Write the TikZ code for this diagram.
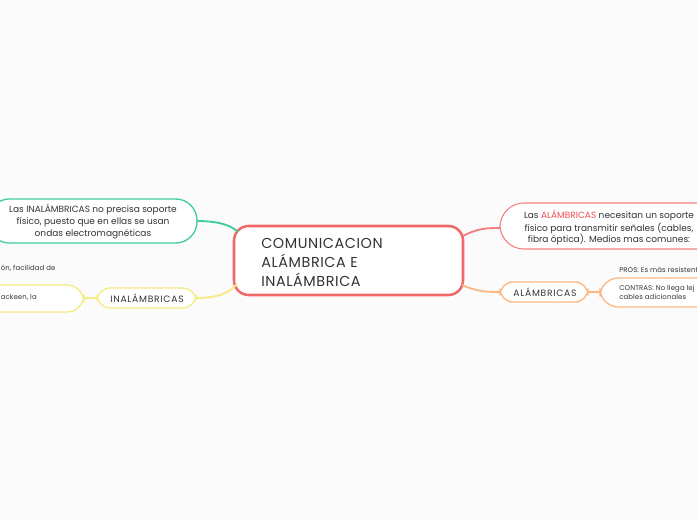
\documentclass[tikz,border=0pt]{standalone}
\usepackage{fontspec}
\setmainfont{Poppins}
\definecolor{bg}{HTML}{FBFBFB}
\definecolor{cred}{HTML}{F26868}
\definecolor{cgreen}{HTML}{44CC9C}
\definecolor{cyellow}{HTML}{F6EB84}
\definecolor{corange}{HTML}{FDB783}
\definecolor{txt}{HTML}{333333}
\definecolor{redtxt}{HTML}{F04E4E}
\begin{document}
\begin{tikzpicture}[x=0.75pt,y=-0.75pt,
  lbl/.style={inner sep=0pt,text=txt,font=\fontsize{6.75}{9}\selectfont,align=center},
  caps/.style={inner sep=0pt,text=txt,font=\fontsize{6.9}{9}\selectfont\addfontfeature{LetterSpace=8}},
  small/.style={inner sep=0pt,text=txt,font=\fontsize{5.2}{7}\selectfont\addfontfeature{LetterSpace=1.5},align=left},
  conn/.style={line width=1.4pt}]
\useasboundingbox (0,0) rectangle (697,520);
\fill[bg] (0,0) rectangle (697,520);
\begin{scope}
\clip (0,0) rectangle (697,520);
% central
\draw[cred,line width=1.9pt,fill=white,rounded corners=11pt] (234,226) rectangle (463,295);
\node[lbl,anchor=north west,align=left,font=\fontsize{10.8}{14.4}\selectfont\addfontfeature{LetterSpace=4}] (c) at (261,238) {COMUNICACION\\ALÁMBRICA E\\INALÁMBRICA};
\coordinate (cgr) at (238,232);
\coordinate (cye) at (237,284);
\coordinate (cre) at (463,236);
\coordinate (cor) at (462,285);
% green node
\draw[cgreen,line width=1pt,fill=white,rounded corners=16pt] (-12,199) rectangle (197,243);
\node[lbl] (g) at (93,221.5) {Las INALÁMBRICAS no precisa soporte\\físico, puesto que en ellas se usan\\ondas electromagnéticas};
\coordinate (gr) at (197,221);
\draw[cgreen,conn] (gr) .. controls (220,221) and (232,226) .. (cgr);
% yellow
\draw[cyellow,line width=1pt,fill=white,rounded corners=10pt] (97,288) rectangle (196,308);
\node[caps] (ina) at (147,298) {INALÁMBRICAS};
\draw[cyellow,conn] (196,298) .. controls (220,298) and (230,292) .. (cye);
\draw[cyellow,line width=1pt,fill=white,rounded corners=13pt] (-60,285) rectangle (84,312);
\node[small,anchor=west] (ya) at (0.5,297.5) {ackeen, la};
\node[small,anchor=west] (yb) at (0.5,268) {ón, facilidad de};
\draw[cyellow,line width=1pt] (84,298) -- (97,298);
% red right
\draw[cred!85,line width=0.8pt,fill=white,rounded corners=18pt] (500,203) rectangle (725,249);
\node[lbl] (r) at (609,228) {Las \textcolor{redtxt}{ALÁMBRICAS} necesitan un soporte\\físico para transmitir señales (cables,\\fibra óptica). Medios mas comunes:};
\draw[cred!85,conn] (cre) .. controls (478,228) and (488,228) .. (500,228);
% orange
\draw[corange,line width=1pt,fill=white,rounded corners=10pt] (500,282) rectangle (588,302);
\node[caps] (al) at (545,292) {ALÁMBRICAS};
\draw[corange,conn] (cor) .. controls (478,292) and (488,292) .. (500,292);
\draw[corange,line width=1pt,fill=white,rounded corners=14pt] (600,278) rectangle (760,307);
\draw[corange,line width=1pt] (588,292) -- (600,292);
\node[small,anchor=west] (p) at (619,270) {PROS: Es más resistent};
\node[small,anchor=north west] (cn) at (619,285) {CONTRAS: No llega lej\\cables adicionales};
\end{scope}
\end{tikzpicture}
\end{document}
